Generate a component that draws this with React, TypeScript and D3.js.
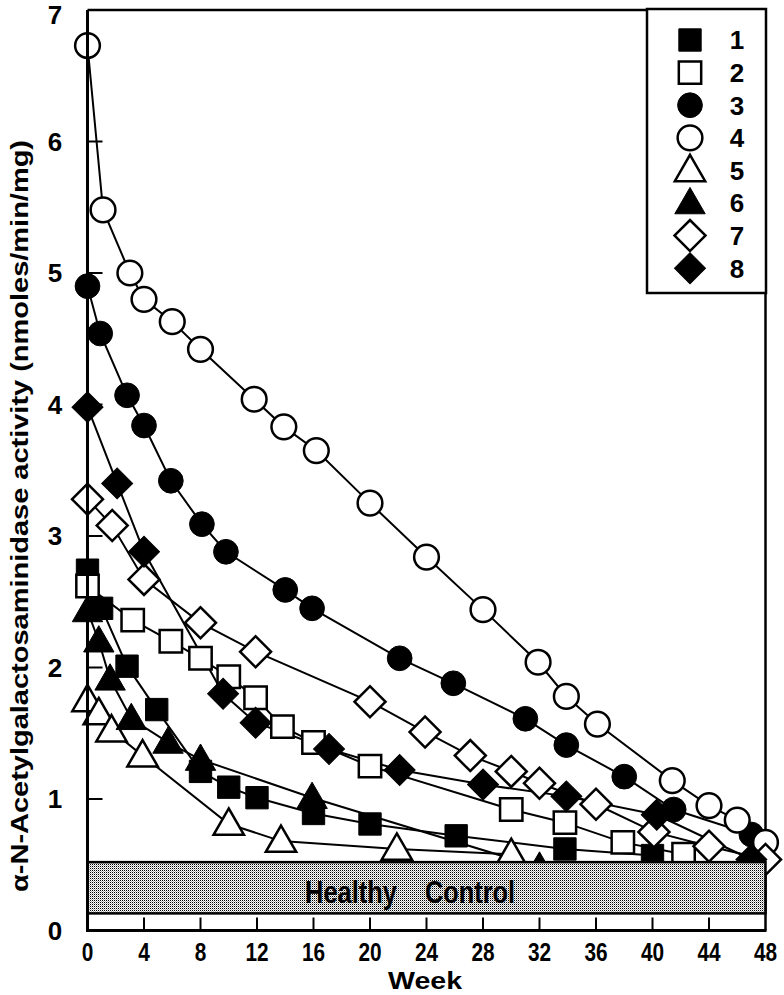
import React from "react";
import * as d3 from "d3";

// ---- data ----
const weeks1 = [0, 1, 2.8, 4.9, 8, 10, 12, 16, 20, 26.1, 33.8, 40];
const vals1 = [2.74, 2.45, 2.01, 1.68, 1.21, 1.09, 1.01, 0.89, 0.81, 0.72, 0.62, 0.57];

const weeks2 = [0, 3.2, 5.9, 8, 10, 11.9, 13.8, 16, 20, 30, 33.8, 37.9, 42.2];
const vals2 = [2.62, 2.36, 2.2, 2.07, 1.93, 1.77, 1.55, 1.43, 1.25, 0.92, 0.82, 0.67, 0.58];

const weeks3 = [0, 0.9, 2.8, 4, 5.9, 8.1, 9.8, 14, 15.9, 22.1, 25.9, 31, 33.9, 38, 41.5, 47];
const vals3 = [4.9, 4.54, 4.07, 3.84, 3.42, 3.09, 2.88, 2.59, 2.45, 2.07, 1.88, 1.61, 1.41, 1.17, 0.92, 0.73];

const weeks4 = [0, 1.1, 3, 4, 6, 8, 11.8, 13.9, 16.2, 20, 24, 28, 31.9, 33.9, 36.1, 41.4, 44, 46, 48];
const vals4 = [6.73, 5.48, 5.0, 4.8, 4.63, 4.42, 4.04, 3.83, 3.65, 3.25, 2.84, 2.44, 2.04, 1.78, 1.57, 1.14, 0.95, 0.84, 0.67];

const weeks5 = [0, 0.8, 1.7, 3.9, 10, 13.7, 21.9, 30];
const vals5 = [1.75, 1.65, 1.52, 1.33, 0.81, 0.68, 0.62, 0.58];

const weeks6 = [0, 0.8, 1.6, 3.1, 5.7, 8, 15.9, 32];
const vals6 = [2.43, 2.2, 1.91, 1.61, 1.43, 1.3, 1.01, 0.48];

const weeks7 = [0, 1.75, 4, 8, 11.9, 20, 23.9, 27.1, 30, 32, 36, 40.1, 44, 48];
const vals7 = [3.28, 3.08, 2.67, 2.34, 2.12, 1.74, 1.51, 1.33, 1.21, 1.12, 0.96, 0.75, 0.64, 0.54];

const weeks8 = [0, 2.1, 4, 9.6, 11.9, 17.1, 22.1, 28, 33.9, 40.3, 47];
const vals8 = [3.98, 3.4, 2.88, 1.8, 1.58, 1.38, 1.22, 1.11, 1.02, 0.88, 0.54];

const seriesNames = ["1", "2", "3", "4", "5", "6", "7", "8"];
const seriesShapes = ["square", "square", "circle", "circle", "triangle", "triangle", "diamond", "diamond"];
const seriesFilled = [true, false, true, false, false, true, false, true];
const seriesWeeks = [weeks1, weeks2, weeks3, weeks4, weeks5, weeks6, weeks7, weeks8];
const seriesVals = [vals1, vals2, vals3, vals4, vals5, vals6, vals7, vals8];

const xTicks = [0, 4, 8, 12, 16, 20, 24, 28, 32, 36, 40, 44, 48];
const yTicks = [0, 1, 2, 3, 4, 5, 6, 7];

const controlLow = 0.13;
const controlHigh = 0.52;

const W = 784;
const H = 995;
const x = d3.scaleLinear().domain([0, 48]).range([87.5, 765.5]);
const y = d3.scaleLinear().domain([0, 7]).range([930.5, 10]);

function markerPath(shape: string) {
  if (shape === "square") return d3.symbol(d3.symbolSquare, 500)()!;
  if (shape === "circle") return d3.symbol(d3.symbolCircle, 480)()!;
  if (shape === "triangle") return d3.symbol(d3.symbolTriangle, 400)()!;
  return d3.symbol(d3.symbolSquare, 480)()!;
}

function Marker({ shape, filled, cx, cy }: { shape: string; filled: boolean; cx: number; cy: number }) {
  const rot = shape === "diamond" ? " rotate(45)" : "";
  const dy = shape === "triangle" ? 2 : 0;
  return (
    <path
      d={markerPath(shape)}
      transform={`translate(${cx},${cy + dy})${rot}`}
      fill={filled ? "#000" : "#fff"}
      stroke="#000"
      strokeWidth={filled ? 1 : 2.5}
    />
  );
}

export default function App() {
  const line = d3
    .line<[number, number]>()
    .x((d) => x(d[0]))
    .y((d) => y(d[1]));

  const legendX = 647;
  const legendY = 9;
  const legendW = 119;
  const legendH = 284;

  const font = "'Liberation Sans', Arial, sans-serif";

  return (
    <svg width={W} height={H} style={{ position: "absolute", left: 0, top: 0, background: "#fff" }}>
      <defs>
        <pattern id="dots" width="2" height="2" patternUnits="userSpaceOnUse">
          <rect width="2" height="2" fill="#fff" />
          <rect width="1" height="1" fill="#000" />
          <rect x="1" y="1" width="1" height="1" fill="#aaa" />
        </pattern>
      </defs>
      <rect width={W} height={H} fill="#fff" />

      {/* frame */}
      <line x1={x(0)} x2={x(48)} y1={y(7)} y2={y(7)} stroke="#000" strokeWidth={2.5} />
      <line x1={x(48)} x2={x(48)} y1={y(7)} y2={y(0)} stroke="#000" strokeWidth={2.5} />

      {/* lines */}
      {seriesNames.map((n, i) => (
        <path
          key={"l" + n}
          d={line(seriesWeeks[i].map((w, j) => [w, seriesVals[i][j]] as [number, number]))!}
          fill="none"
          stroke="#000"
          strokeWidth={2}
        />
      ))}
      {/* markers */}
      {seriesNames.map((n, i) =>
        seriesWeeks[i].map((w, j) => (
          <Marker
            key={"m" + n + "-" + j}
            shape={seriesShapes[i]}
            filled={seriesFilled[i]}
            cx={x(w)}
            cy={y(seriesVals[i][j])}
          />
        ))
      )}

      {/* healthy control band */}
      <rect
        x={x(0)}
        y={y(controlHigh)}
        width={x(48) - x(0)}
        height={y(controlLow) - y(controlHigh)}
        fill="url(#dots)"
        stroke="#000"
        strokeWidth={2.5}
      />
      <text x={305} y={903} fontFamily={font} fontWeight="bold" fontSize={31} textLength={92} lengthAdjust="spacingAndGlyphs" fill="#000">
        Healthy
      </text>
      <text x={425} y={903} fontFamily={font} fontWeight="bold" fontSize={31} textLength={90} lengthAdjust="spacingAndGlyphs" fill="#000">
        Control
      </text>

      {/* axes */}
      <line x1={x(0)} x2={x(0)} y1={y(7)} y2={y(0) + 1.5} stroke="#000" strokeWidth={3} />
      <line x1={x(0) - 1.5} x2={x(48) + 1} y1={y(0)} y2={y(0)} stroke="#000" strokeWidth={3} />
      {yTicks.map((t) => (
        <g key={"yt" + t}>
          {t > 0 && t < 7 && <line x1={x(0)} x2={x(0) + 15} y1={y(t)} y2={y(t)} stroke="#000" strokeWidth={2} />}
          <text
            x={55}
            y={t === 7 ? y(t) + 5 : y(t)}
            dy="0.36em"
            textAnchor="middle"
            fontFamily={font}
            fontWeight="bold"
            fontSize={26}
          >
            {t}
          </text>
        </g>
      ))}
      {xTicks.map((t) => (
        <g key={"xt" + t}>
          {t > 0 && t < 48 && <line x1={x(t)} x2={x(t)} y1={y(0)} y2={y(0) - 13} stroke="#000" strokeWidth={2} />}
          <text
            transform={`translate(${x(t)},952) scale(0.8,1)`}
            dy="0.36em"
            textAnchor="middle"
            fontFamily={font}
            fontWeight="bold"
            fontSize={26}
          >
            {t}
          </text>
        </g>
      ))}
      <text x={425} y={989} textAnchor="middle" fontFamily={font} fontWeight="bold" fontSize={23} textLength={74} lengthAdjust="spacingAndGlyphs">
        Week
      </text>
      <text
        transform={`translate(19,516) rotate(-90)`}
        textAnchor="middle"
        dy="0.36em"
        fontFamily={font}
        fontWeight="bold"
        fontSize={24}
        textLength={752}
        lengthAdjust="spacingAndGlyphs"
      >
        α-N-Acetylgalactosaminidase activity (nmoles/min/mg)
      </text>

      {/* legend */}
      <rect x={legendX} y={legendY} width={legendW} height={legendH} fill="#fff" stroke="#000" strokeWidth={2.5} />
      {seriesNames.map((n, i) => {
        const ly = 40 + i * 32.6;
        return (
          <g key={"lg" + n}>
            <Marker shape={seriesShapes[i]} filled={seriesFilled[i]} cx={690} cy={ly} />
            <text x={737} y={ly} dy="0.36em" textAnchor="middle" fontFamily={font} fontWeight="bold" fontSize={26}>
              {n}
            </text>
          </g>
        );
      })}
    </svg>
  );
}
